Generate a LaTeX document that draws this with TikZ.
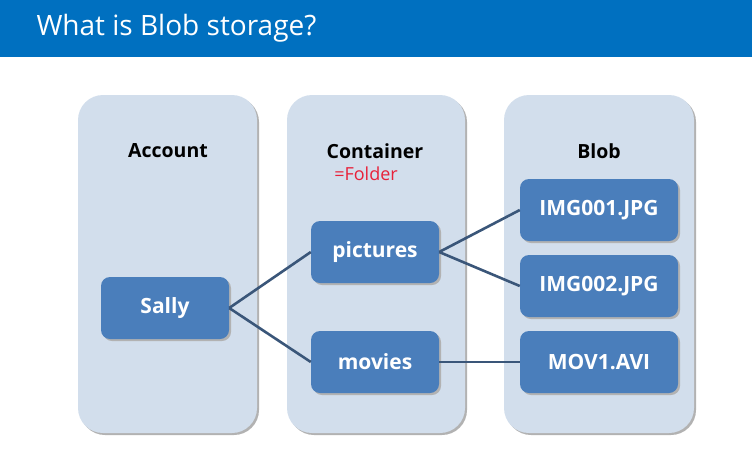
\documentclass[tikz,border=0pt]{standalone}
\usepackage{fontspec}
\setmainfont{Open Sans}
\usetikzlibrary{shadows}
\definecolor{titleblue}{HTML}{0070C0}
\definecolor{panelblue}{HTML}{D2DEEC}
\definecolor{boxblue}{HTML}{4A7EBB}
\definecolor{linkblue}{HTML}{3A5679}
\definecolor{folderred}{HTML}{E8213A}
\tikzset{
	panel/.style={fill=panelblue, rounded corners=25pt, drop shadow={shadow xshift=2pt, shadow yshift=-2pt, opacity=1, fill=black!30}},
	item/.style={fill=boxblue, rounded corners=9pt, minimum width=128pt, minimum height=62pt, text=white, font=\bfseries\fontsize{21}{24}\selectfont, drop shadow={shadow xshift=2pt, shadow yshift=-2pt, opacity=1, fill=black!30}},
	blobitem/.style={item, minimum width=158pt},
	heading/.style={font=\bfseries\fontsize{19.5}{23}\selectfont},
	link/.style={draw=linkblue, line width=2.6pt}
}

\begin{document}
\begin{tikzpicture}[x=1pt, y=-1pt]
			%%%%% START %%%%%
			\useasboundingbox (0, 0) rectangle (752, 451);
			
			\fill[titleblue] (0, 0) rectangle (752, 57);
			\node[anchor=west, text=white, font=\fontsize{28}{32}\selectfont] (title) at (33, 28) {What is Blob storage?};
			
			\fill[panel] (78, 95) rectangle (257, 433);
			\fill[panel] (287, 95) rectangle (465, 433);
			\fill[panel] (504, 95) rectangle (694, 433);
			
			\node[heading] (account) at (168, 151) {Account};
			\node[heading] (container) at (375, 151) {Container};
			\node[text=folderred, font=\fontsize{18}{21}\selectfont] (folder) at (366, 174) {=Folder};
			\node[heading] (blob) at (599, 151) {Blob};
			
			\node[item] (sally) at (165, 308) {Sally};
			
			\node[item] (pictures) at (375, 252) {pictures};
			\node[item] (movies) at (375, 362) {movies};
			
			\node[blobitem] (img1) at (599, 210) {IMG001.JPG};
			\node[blobitem] (img2) at (599, 286) {IMG002.JPG};
			\node[blobitem] (mov1) at (599, 362) {MOV1.AVI};
			
			\draw[link] (sally.east) -- (pictures.west);
			\draw[link] (sally.east) -- (movies.west);
			\draw[link] (pictures.east) -- (img1.west);
			\draw[link] (pictures.east) -- (img2.west);
			\draw[link] (movies.east) -- (mov1.west);
			
			%%%%% END %%%%%
		\end{tikzpicture}
\end{document}
